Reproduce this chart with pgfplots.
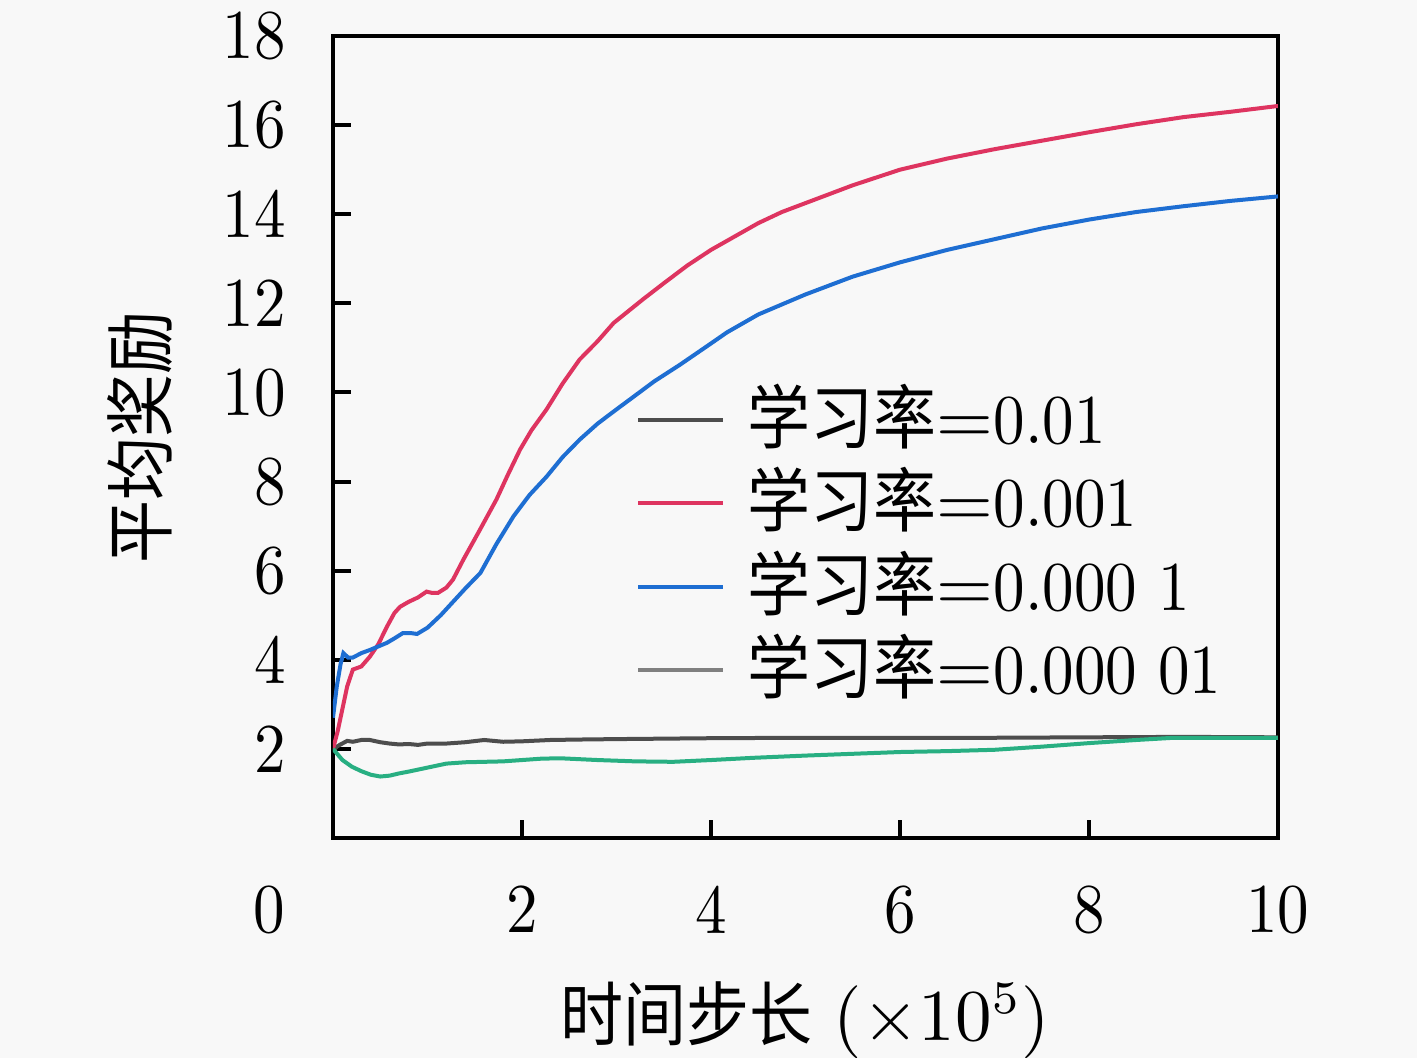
\documentclass[border=0pt]{standalone}
\usepackage{fontspec}
\setmainfont{Latin Modern Roman}[FakeStretch=0.9]
\newfontfamily\cjk{Noto Sans CJK SC}[FakeStretch=0.9]
\usepackage{pgfplots}
\pgfplotsset{compat=1.18}
\definecolor{cgray}{RGB}{77,77,77}
\definecolor{cred}{RGB}{222,52,96}
\definecolor{cblue}{RGB}{30,110,210}
\definecolor{cgreen}{RGB}{40,175,130}
\definecolor{clegg}{RGB}{128,128,128}
\definecolor{bg}{RGB}{248,248,248}

\pgfplotstableread{
x y
0 1.95
0.04 2.05
0.08 2.1
0.15 2.18
0.21 2.16
0.3 2.2
0.39 2.2
0.5 2.15
0.6 2.12
0.7 2.1
0.8 2.11
0.9 2.09
1.0 2.12
1.2 2.12
1.4 2.15
1.6 2.2
1.8 2.16
2.0 2.17
2.3 2.2
2.6 2.21
3.0 2.22
3.5 2.23
4 2.24
5 2.25
6 2.25
7 2.25
8 2.26
9 2.27
10 2.26
}\lrA

\pgfplotstableread{
x y
0 2.0
0.05 2.4
0.1 2.9
0.15 3.4
0.21 3.78
0.3 3.85
0.39 4.07
0.48 4.35
0.57 4.74
0.65 5.05
0.71 5.19
0.8 5.3
0.9 5.4
0.99 5.53
1.05 5.5
1.11 5.5
1.2 5.62
1.27 5.8
1.38 6.25
1.55 6.9
1.73 7.6
1.85 8.15
1.98 8.72
2.1 9.15
2.26 9.62
2.43 10.2
2.61 10.74
2.8 11.15
2.97 11.56
3.28 12.09
3.5 12.45
3.75 12.85
4.0 13.2
4.25 13.5
4.5 13.8
4.75 14.05
5.0 14.25
5.5 14.65
6.0 15.0
6.5 15.25
7.0 15.46
7.5 15.65
8.0 15.84
8.5 16.02
9.0 16.18
9.5 16.3
10.0 16.43
}\lrB

\pgfplotstableread{
x y
0 2.7
0.04 3.4
0.08 3.9
0.11 4.15
0.16 4.05
0.21 4.05
0.3 4.15
0.39 4.22
0.48 4.3
0.57 4.38
0.65 4.48
0.74 4.6
0.82 4.6
0.89 4.58
1.0 4.72
1.14 5.0
1.27 5.3
1.4 5.6
1.56 5.95
1.73 6.6
1.91 7.22
2.08 7.7
2.26 8.11
2.43 8.55
2.61 8.94
2.8 9.3
3.0 9.62
3.14 9.84
3.4 10.25
3.67 10.62
4.0 11.1
4.17 11.35
4.5 11.75
5.0 12.2
5.5 12.6
6.0 12.92
6.5 13.2
7.0 13.44
7.5 13.68
8.0 13.88
8.5 14.05
9.0 14.18
9.5 14.3
10 14.4
}\lrC

\pgfplotstableread{
x y
0 2.0
0.04 1.9
0.1 1.75
0.2 1.6
0.3 1.5
0.4 1.42
0.5 1.38
0.6 1.4
0.7 1.45
0.8 1.49
1.0 1.58
1.2 1.67
1.4 1.7
1.6 1.71
1.8 1.72
2.0 1.75
2.2 1.78
2.4 1.79
2.8 1.75
3.2 1.72
3.6 1.71
4.0 1.75
4.45 1.8
5.0 1.85
5.5 1.89
6.0 1.93
6.5 1.95
7.0 1.98
7.5 2.05
8.0 2.13
8.5 2.2
8.9 2.25
9.5 2.25
10 2.25
}\lrD

\begin{document}
\fontsize{10.5}{12.6}\selectfont
\begin{tikzpicture}[x=1pt,y=1pt]
\fill[bg] (-49.95,-33) rectangle (162.6,125.7);
\path[use as bounding box] (-49.95,-33) rectangle (162.6,125.7);
\begin{axis}[
  at={(0,0)}, anchor=south west,
  scale only axis,
  width=141.75pt, height=120.3pt,
  xmin=0, xmax=10, ymin=0, ymax=18,
  xtick={2,4,6,8,10},
  ytick={2,4,6,8,10,12,14,16,18},
  extra x ticks={0},
  extra x tick style={major tick length=0pt, xticklabel style={xshift=-9.6pt}},
  /pgf/number format/assume math mode=true,
  tick pos=left,
  tick align=inside,
  major tick length=2.7pt,
  axis line style={line width=0.6pt},
  every tick/.style={black, line width=0.6pt},
  yticklabel style={xshift=-3.4pt},
  xticklabel style={yshift=-3.5pt},
  xlabel={{\cjk 时间步长} $\left(\times 10^{5}\right)$},
  xlabel style={at={(axis description cs:0.5,0)}, anchor=base, yshift=-30.3pt},
  ylabel={\cjk 平均奖励},
  ylabel style={at={(axis description cs:0,0.5)}, anchor=center, yshift=29pt},
  legend image code/.code={\draw[#1, line width=0.6pt] (0pt,0pt) -- (12.75pt,0pt);},
  legend cell align=left,
  legend style={draw=none, fill=none, inner sep=0pt, outer sep=0pt,
    at={(axis cs:3.21,10.13)}, anchor=north west,
    row sep=2.5pt,
    nodes={inner sep=0pt, text height=8.5pt, text depth=1.5pt},
    /tikz/every odd column/.append style={column sep=3.4pt}},
]
\addplot[cgray, line width=0.6pt, forget plot] table[x=x,y=y] {\lrA};
\addplot[cred, line width=0.6pt, forget plot] table[x=x,y=y] {\lrB};
\addplot[cblue, line width=0.6pt, forget plot] table[x=x,y=y] {\lrC};
\addplot[cgreen, line width=0.6pt, forget plot] table[x=x,y=y] {\lrD};
\addlegendimage{cgray}
\addlegendimage{cred}
\addlegendimage{cblue}
\addlegendimage{clegg}
\legend{{\cjk 学习率}$=$0.01, {\cjk 学习率}$=$0.001, {\cjk 学习率}$=$0.000 1, {\cjk 学习率}$=$0.000 01}
\end{axis}
\end{tikzpicture}
\end{document}
